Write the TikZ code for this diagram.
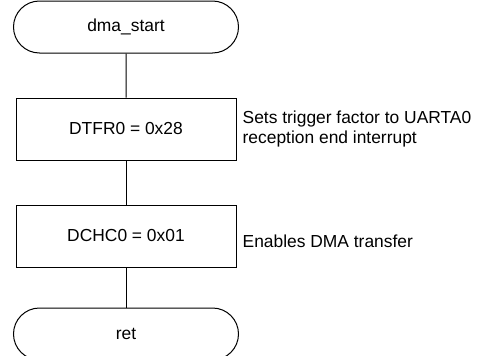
\documentclass[tikz,border=0pt]{standalone}
\usepackage{fontspec}
\setmainfont{Liberation Sans}
\usetikzlibrary{shapes.misc, positioning}
\tikzset{
  % Box styles
  termbox/.style={rounded rectangle, draw=black, line width=1pt, minimum width=225pt, minimum height=52pt, inner sep=0pt, font=\fontsize{17.4}{20.5}\selectfont},
  procbox/.style={rectangle, draw=black, line width=1pt, minimum width=220pt, minimum height=62pt, inner sep=0pt, font=\fontsize{17.4}{20.5}\selectfont},
  notebox/.style={anchor=west, align=left, inner sep=0pt, font=\fontsize{17.4}{20.5}\selectfont},
  % Line styles
  flowline/.style={line width=1pt, black}
}

\begin{document}
\begin{tikzpicture}[x=1pt, y=1pt, node distance=44pt]
  \useasboundingbox (0,0) rectangle (483,-356);

  % Flow nodes
  \node[termbox] (start) at (126,-27) {dma\_start};
  \node[procbox, below=of start] (dtfr) {DTFR0 = 0x28};
  \node[procbox, below=of dtfr] (dchc) {DCHC0 = 0x01};
  \node[termbox, below=40pt of dchc] (ret) {ret};

  % Comments
  \node[notebox, right=6pt of dtfr] (dtfrnote) {Sets trigger factor to UARTA0\\reception end interrupt};
  \node[notebox, right=6pt of dchc, yshift=-5pt] (dchcnote) {Enables DMA transfer};

  % Flow lines
  \draw[flowline] (start) -- (dtfr);
  \draw[flowline] (dtfr) -- (dchc);
  \draw[flowline] (dchc) -- (ret);
\end{tikzpicture}
\end{document}
